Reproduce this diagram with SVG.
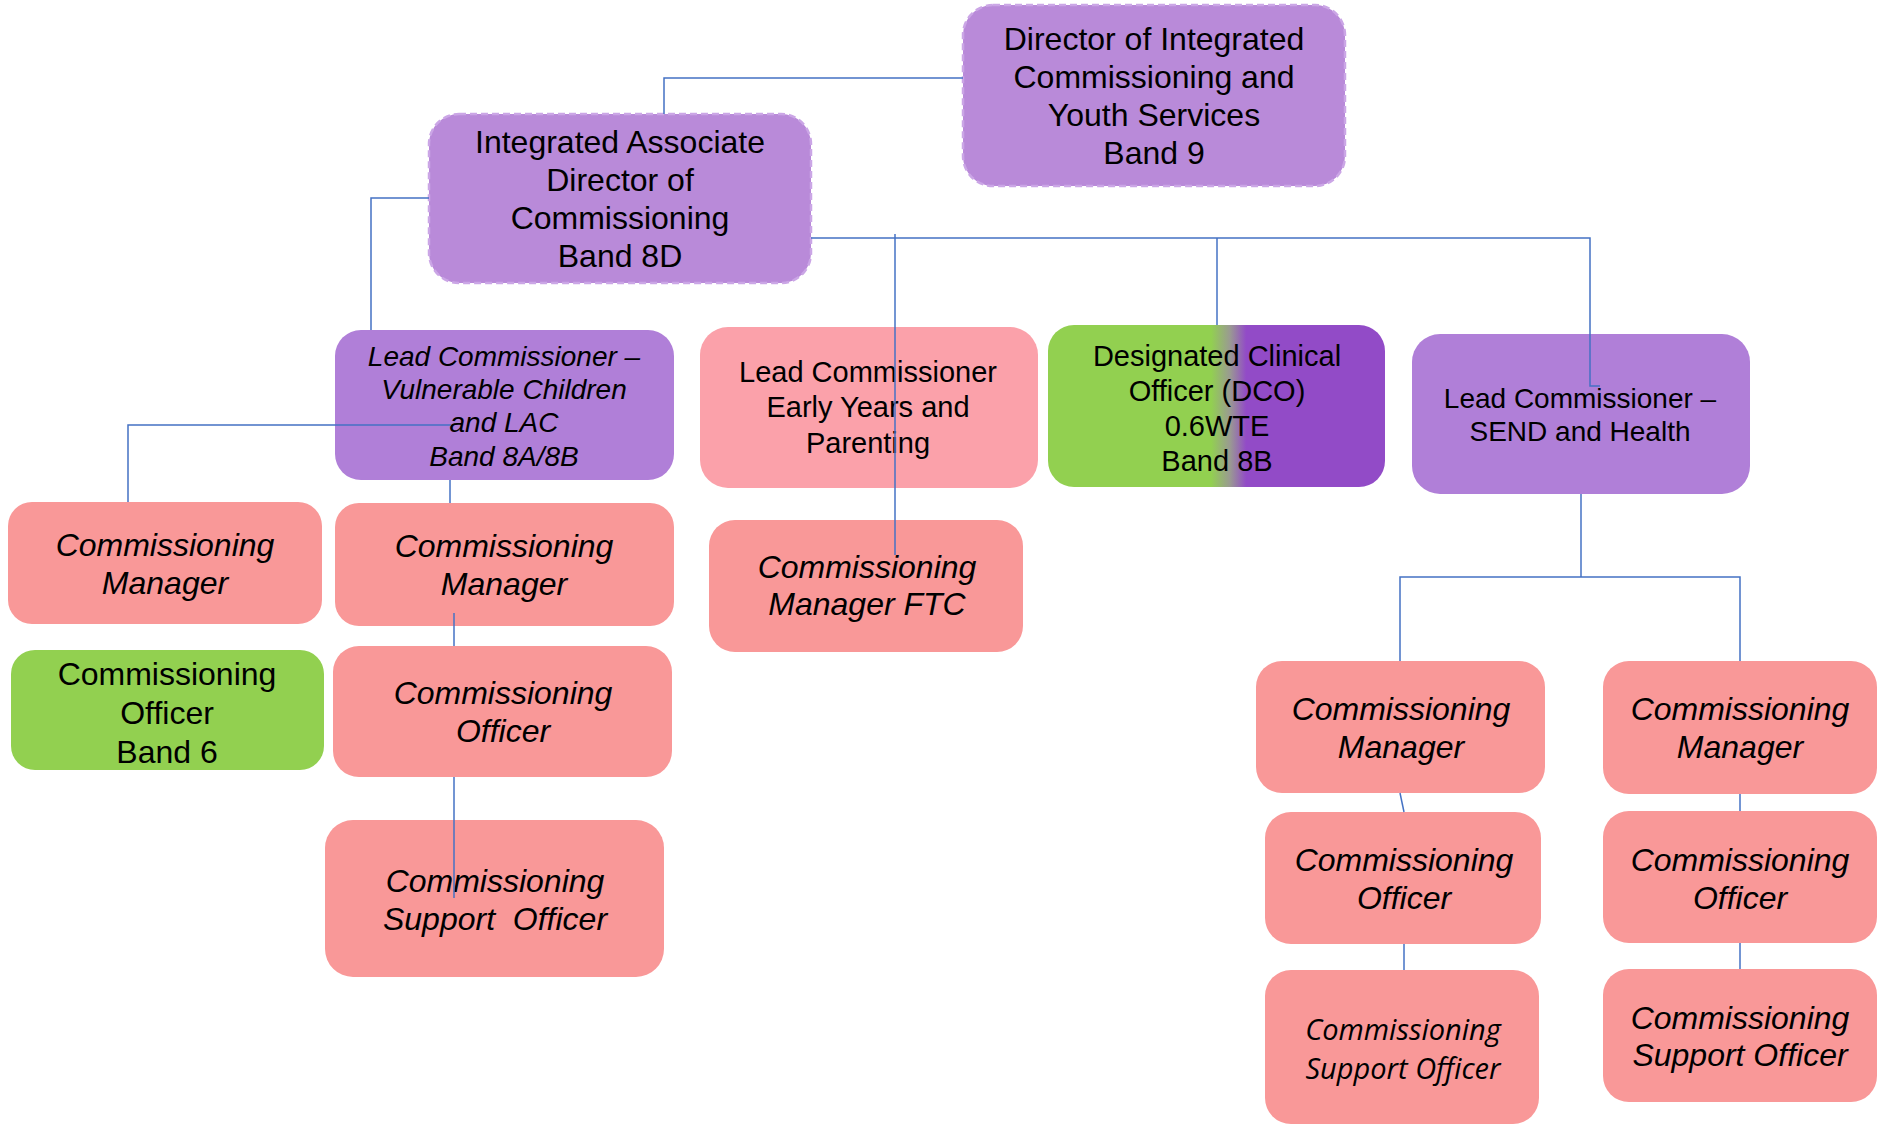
<svg xmlns="http://www.w3.org/2000/svg" width="1883" height="1124" viewBox="0 0 1883 1124">
<style>
  .t { font-family: "Liberation Sans", Arial, sans-serif; fill: #000; text-anchor: middle; }
  .i { font-style: italic; }
  .s32 { font-size: 32px; }
  .s29 { font-size: 29px; }
  .s28 { font-size: 28px; }
  .cal { font-family: "Open Sans", "Noto Sans", sans-serif; font-style: italic; font-size: 29px; fill: #000; text-anchor: middle; }
  .dash { fill: #B98AD9; stroke: #CBA6E6; stroke-width: 2.5; stroke-dasharray: 7 4; }
  .purple { fill: #B07FD8; }
  .pink { fill: #F99898; }
  .pinkl { fill: #FBA1AA; }
  .green { fill: #92D050; }
  .conn { fill: none; stroke: #4472C4; stroke-width: 1.5; }
</style>
<defs>
  <linearGradient id="dcoGrad" gradientUnits="userSpaceOnUse" x1="1048" y1="0" x2="1385" y2="0">
    <stop offset="0" stop-color="#92D050"/>
    <stop offset="0.484" stop-color="#92D050"/>
    <stop offset="0.54" stop-color="#9A9A92"/>
    <stop offset="0.588" stop-color="#924BC7"/>
    <stop offset="1" stop-color="#924BC7"/>
  </linearGradient>
</defs>

<g id="director">
  <rect class="dash" x="963" y="5" width="382" height="181" rx="30"/>
  <text class="t s32" x="1154" y="50">Director of Integrated</text>
  <text class="t s32" x="1154" y="88">Commissioning and</text>
  <text class="t s32" x="1154" y="126">Youth Services</text>
  <text class="t s32" x="1154" y="164">Band 9</text>
</g>

<g id="iad">
  <rect class="dash" x="429" y="114" width="382" height="169" rx="30"/>
  <text class="t s32" x="620" y="153">Integrated Associate</text>
  <text class="t s32" x="620" y="191">Director of</text>
  <text class="t s32" x="620" y="229">Commissioning</text>
  <text class="t s32" x="620" y="267">Band 8D</text>
</g>

<g id="lc-vulnerable">
  <rect class="purple" x="335" y="330" width="339" height="150" rx="26"/>
  <text class="t s28 i" x="504" y="366">Lead Commissioner –</text>
  <text class="t s28 i" x="504" y="399">Vulnerable Children</text>
  <text class="t s28 i" x="504" y="432">and LAC</text>
  <text class="t s28 i" x="504" y="466">Band 8A/8B</text>
</g>

<g id="cm-left">
  <rect class="pink" x="8" y="502" width="314" height="122" rx="24"/>
  <text class="t s32 i" x="165" y="556">Commissioning</text>
  <text class="t s32 i" x="165" y="594">Manager</text>
</g>

<g id="cm-vc">
  <rect class="pink" x="335" y="503" width="339" height="123" rx="24"/>
  <text class="t s32 i" x="504" y="557">Commissioning</text>
  <text class="t s32 i" x="504" y="595">Manager</text>
</g>

<g id="co-band6">
  <rect class="green" x="11" y="650" width="313" height="120" rx="24"/>
  <text class="t s32" x="167" y="685">Commissioning</text>
  <text class="t s32" x="167" y="724">Officer</text>
  <text class="t s32" x="167" y="763">Band 6</text>
</g>

<g id="co-vc">
  <rect class="pink" x="333" y="646" width="339" height="131" rx="26"/>
  <text class="t s32 i" x="503" y="704">Commissioning</text>
  <text class="t s32 i" x="503" y="742">Officer</text>
</g>

<g id="cso-vc">
  <rect class="pink" x="325" y="820" width="339" height="157" rx="28"/>
  <text class="t s32 i" x="495" y="892">Commissioning</text>
  <text class="t s32 i" x="495" y="930" xml:space="preserve">Support  Officer</text>
</g>

<g id="lc-early-years">
  <rect class="pinkl" x="700" y="327" width="338" height="161" rx="28"/>
  <text class="t s29" x="868" y="382">Lead Commissioner</text>
  <text class="t s29" x="868" y="417">Early Years and</text>
  <text class="t s29" x="868" y="453">Parenting</text>
</g>

<g id="cm-ftc">
  <rect class="pink" x="709" y="520" width="314" height="132" rx="26"/>
  <text class="t s32 i" x="867" y="578">Commissioning</text>
  <text class="t s32 i" x="867" y="615">Manager FTC</text>
</g>

<g id="dco">
  <rect x="1048" y="325" width="337" height="162" rx="26" fill="url(#dcoGrad)"/>
  <text class="t s29" x="1217" y="366">Designated Clinical</text>
  <text class="t s29" x="1217" y="401">Officer (DCO)</text>
  <text class="t s29" x="1217" y="436">0.6WTE</text>
  <text class="t s29" x="1217" y="471">Band 8B</text>
</g>

<g id="lc-send">
  <rect class="purple" x="1412" y="334" width="338" height="160" rx="28"/>
  <text class="t s28" x="1580" y="408">Lead Commissioner –</text>
  <text class="t s28" x="1580" y="441">SEND and Health</text>
</g>

<g id="cm-send-1">
  <rect class="pink" x="1256" y="661" width="289" height="132" rx="26"/>
  <text class="t s32 i" x="1401" y="720">Commissioning</text>
  <text class="t s32 i" x="1401" y="758">Manager</text>
</g>

<g id="cm-send-2">
  <rect class="pink" x="1603" y="661" width="274" height="133" rx="26"/>
  <text class="t s32 i" x="1740" y="720">Commissioning</text>
  <text class="t s32 i" x="1740" y="758">Manager</text>
</g>

<g id="co-send-1">
  <rect class="pink" x="1265" y="812" width="276" height="132" rx="26"/>
  <text class="t s32 i" x="1404" y="871">Commissioning</text>
  <text class="t s32 i" x="1404" y="909">Officer</text>
</g>

<g id="co-send-2">
  <rect class="pink" x="1603" y="811" width="274" height="132" rx="26"/>
  <text class="t s32 i" x="1740" y="871">Commissioning</text>
  <text class="t s32 i" x="1740" y="909">Officer</text>
</g>

<g id="cso-send-1">
  <rect class="pink" x="1265" y="970" width="274" height="154" rx="26"/>
  <text class="cal" x="1403" y="1040">Commissioning</text>
  <text class="cal" x="1403" y="1079">Support Officer</text>
</g>

<g id="cso-send-2">
  <rect class="pink" x="1603" y="969" width="274" height="133" rx="26"/>
  <text class="t s32 i" x="1740" y="1029">Commissioning</text>
  <text class="t s32 i" x="1740" y="1066">Support Officer</text>
</g>

<g id="connectors">
  <path class="conn" d="M963 78 H664 V114"/>
  <path class="conn" d="M429 198 H371 V330"/>
  <path class="conn" d="M811 238 H1590 V386 H1600"/>
  <path class="conn" d="M895 234 V555"/>
  <path class="conn" d="M1217 238 V325"/>
  <path class="conn" d="M451 425 H128 V502"/>
  <path class="conn" d="M450 480 V503"/>
  <path class="conn" d="M454 613 V646"/>
  <path class="conn" d="M454 777 V898"/>
  <path class="conn" d="M1581 494 V577"/>
  <path class="conn" d="M1400 661 V577 H1740 V661"/>
  <path class="conn" d="M1400 793 L1404 812"/>
  <path class="conn" d="M1404 944 V970"/>
  <path class="conn" d="M1740 794 V811"/>
  <path class="conn" d="M1740 943 V969"/>
</g>
</svg>
